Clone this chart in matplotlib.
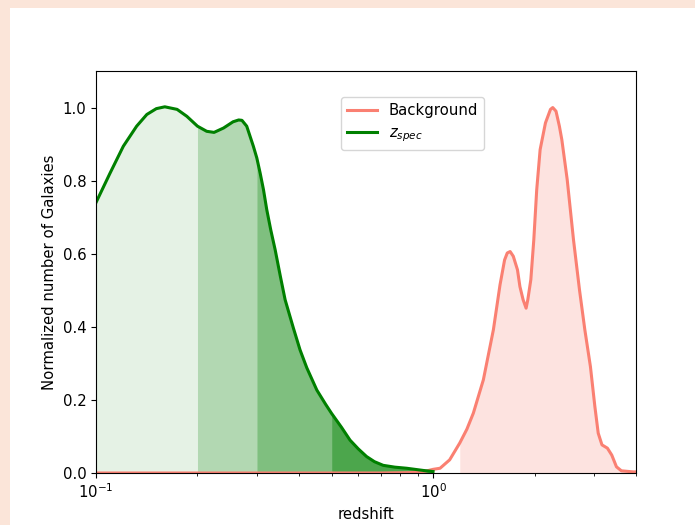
import matplotlib
matplotlib.use("Agg")
import matplotlib.pyplot as plt
from matplotlib.patches import Rectangle
import numpy as np

plt.rcParams["font.size"] = 10.7

# z_spec distribution (redshift, normalized count)
z_spec_x = [0.100, 0.110, 0.1205, 0.132, 0.1415, 0.151, 0.160, 0.174, 0.186, 0.200,
            0.213, 0.224, 0.239, 0.255, 0.265, 0.271, 0.280, 0.293, 0.300, 0.307,
            0.314, 0.321, 0.330, 0.340, 0.352, 0.364, 0.385, 0.403, 0.422, 0.452,
            0.480, 0.500, 0.535, 0.567, 0.600, 0.635, 0.670, 0.711, 0.770, 0.835,
            0.935, 1.000]
z_spec_y = [0.740, 0.820, 0.894, 0.949, 0.981, 0.997, 1.002, 0.995, 0.976, 0.949,
            0.935, 0.932, 0.944, 0.961, 0.966, 0.965, 0.949, 0.894, 0.862, 0.820,
            0.775, 0.721, 0.665, 0.611, 0.540, 0.474, 0.397, 0.337, 0.288, 0.227,
            0.188, 0.163, 0.125, 0.090, 0.066, 0.045, 0.031, 0.021, 0.016, 0.013,
            0.007, 0.004]

# background distribution
bg_x = [0.100, 0.700, 0.850, 0.950, 1.000, 1.049, 1.120, 1.200, 1.260, 1.317,
        1.410, 1.510, 1.580, 1.630, 1.660, 1.693, 1.730, 1.780, 1.810, 1.850,
        1.888, 1.910, 1.950, 1.990, 2.030, 2.078, 2.155, 2.230, 2.265, 2.316,
        2.370, 2.410, 2.500, 2.610, 2.720, 2.820, 2.930, 3.020, 3.090, 3.170,
        3.290, 3.390, 3.500, 3.620, 3.930, 4.000]
bg_y = [0.000, 0.000, 0.001, 0.005, 0.010, 0.013, 0.036, 0.082, 0.120, 0.164,
        0.255, 0.392, 0.515, 0.583, 0.602, 0.606, 0.593, 0.556, 0.510, 0.474,
        0.451, 0.474, 0.529, 0.638, 0.775, 0.885, 0.958, 0.995, 1.000, 0.990,
        0.949, 0.912, 0.803, 0.638, 0.500, 0.392, 0.291, 0.182, 0.109, 0.077,
        0.068, 0.049, 0.017, 0.006, 0.003, 0.003]

# shaded redshift bins and their alpha
bin_edges = [0.1, 0.2, 0.3, 0.5, 1.0]
bin_alphas = [0.1, 0.3, 0.5, 0.7]
bg_fill_start = 1.2

zx = np.array(z_spec_x)
zy = np.array(z_spec_y)
bx = np.array(bg_x)
by = np.array(bg_y)

fig = plt.figure(figsize=(6.95, 5.25), dpi=100)
fig.patch.set_facecolor("#fbe5d9")
fig.add_artist(Rectangle((10 / 695, 0), 1, 1 - 8 / 525, transform=fig.transFigure,
                         facecolor="white", edgecolor="none", zorder=-1))
ax = fig.add_axes([96 / 695, 52 / 525, 540 / 695, 402 / 525])

for lo, hi, a in zip(bin_edges[:-1], bin_edges[1:], bin_alphas):
    m = (zx >= lo) & (zx <= hi)
    ax.fill_between(zx[m], 0, zy[m], color="green", alpha=a, linewidth=0)

m = bx >= bg_fill_start
ax.fill_between(bx[m], 0, by[m], color="salmon", alpha=0.22, linewidth=0)

ax.plot(bx, by, color="salmon", lw=2.2, label="Background")
ax.plot(zx, zy, color="green", lw=2.2, label=r"$z_{spec}$")

ax.set_xscale("log")
ax.set_xlim(0.1, 4.0)
ax.set_ylim(0, 1.1)
ax.set_xlabel("redshift")
ax.set_ylabel("Normalized number of Galaxies")
ax.legend(loc="upper center", bbox_to_anchor=(0.5865, 0.953))

fig.savefig("out.png", dpi=100, facecolor=fig.get_facecolor())
